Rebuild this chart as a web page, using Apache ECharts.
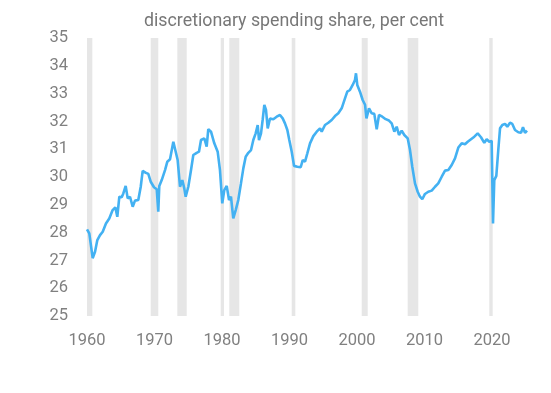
<!DOCTYPE html>
<html>
<head>
<meta charset="utf-8">
<script src="https://cdn.jsdelivr.net/npm/echarts@6/dist/echarts.min.js"></script>
<style>html,body{margin:0;padding:0;background:#fff}#c{width:551px;height:393px}</style>
</head>
<body>
<div id="c"></div>
<script>
var titleText = 'discretionary spending share, per cent';
var years = [1960.0,1960.34,1960.84,1961.19,1961.53,1961.93,1962.33,1962.81,1963.3,1963.8,1964.2,1964.49,1964.79,1965.14,1965.38,1965.73,1966.03,1966.37,1966.77,1967.11,1967.6,1967.96,1968.25,1968.74,1969.08,1969.44,1969.93,1970.33,1970.56,1970.71,1971.07,1971.56,1971.9,1972.3,1972.79,1973.04,1973.43,1973.78,1974.12,1974.41,1974.62,1975.01,1975.41,1975.75,1976.25,1976.59,1976.89,1977.38,1977.73,1977.97,1978.37,1978.86,1979.36,1979.7,1980.04,1980.34,1980.7,1981.04,1981.33,1981.67,1982.03,1982.41,1982.81,1983.16,1983.51,1983.9,1984.3,1984.64,1984.99,1985.29,1985.48,1985.78,1986.02,1986.27,1986.52,1986.77,1987.11,1987.6,1988.1,1988.59,1988.99,1989.33,1989.68,1989.97,1990.33,1990.67,1991.16,1991.66,1991.96,1992.3,1992.64,1993.04,1993.53,1994.03,1994.52,1994.77,1995.26,1995.75,1996.25,1996.74,1997.23,1997.73,1998.22,1998.56,1998.96,1999.36,1999.7,1999.85,2000.04,2000.44,2000.84,2001.19,2001.4,2001.78,2002.18,2002.56,2002.92,2003.26,2003.75,2004.25,2004.74,2005.14,2005.53,2005.88,2006.22,2006.62,2007.01,2007.51,2007.85,2008.19,2008.59,2008.99,2009.33,2009.67,2010.07,2010.56,2011.07,2011.56,2012.04,2012.55,2013.04,2013.53,2014.03,2014.52,2015.01,2015.51,2016.0,2016.4,2016.89,2017.38,2017.88,2018.37,2018.86,2019.21,2019.6,2019.95,2020.15,2020.34,2020.64,2020.93,2021.19,2021.53,2021.93,2022.27,2022.67,2023.01,2023.41,2023.9,2024.3,2024.59,2024.89,2025.19];
var share = [28.12,27.97,27.08,27.31,27.73,27.91,28.03,28.33,28.51,28.81,28.91,28.57,29.29,29.27,29.41,29.68,29.23,29.29,28.93,29.15,29.17,29.65,30.22,30.15,30.11,29.83,29.63,29.56,28.75,29.68,29.89,30.25,30.55,30.64,31.27,31.2,30.61,29.65,29.89,29.59,29.29,29.65,30.25,30.79,30.87,30.91,31.33,31.39,31.09,31.72,31.63,31.21,30.91,30.25,29.05,29.53,29.68,29.17,29.29,28.51,28.81,29.17,29.77,30.31,30.73,30.87,30.97,31.33,31.57,31.87,31.33,31.57,32.05,32.59,32.41,31.75,32.1,32.08,32.17,32.23,32.11,31.93,31.69,31.33,30.91,30.4,30.37,30.35,30.61,30.55,30.85,31.21,31.47,31.63,31.75,31.63,31.87,31.95,32.05,32.19,32.29,32.47,32.83,33.07,33.13,33.31,33.49,33.73,33.31,33.07,32.77,32.6,32.11,32.47,32.29,32.27,31.72,32.23,32.17,32.08,32.03,31.93,31.63,31.81,31.51,31.67,31.51,31.39,30.97,30.37,29.77,29.47,29.29,29.2,29.39,29.47,29.51,29.65,29.77,30.01,30.23,30.25,30.43,30.67,31.06,31.21,31.18,31.27,31.36,31.45,31.57,31.43,31.23,31.36,31.27,31.3,28.33,29.89,30.04,30.97,31.75,31.87,31.91,31.81,31.95,31.91,31.69,31.61,31.59,31.79,31.59,31.67];
var recessionStart = [1959.96,1969.44,1973.38,1979.81,1981.08,1990.33,2000.70,2007.51,2019.6];
var recessionEnd = [1960.79,1970.56,1974.77,1980.3,1982.56,1990.86,2001.59,2009.08,2020.1];
var xTicks = [1960,1970,1980,1990,2000,2010,2020];
var yTicks = [25,26,27,28,29,30,31,32,33,34,35];

var lineData = years.map(function (y, i) { return [y, share[i]]; });
var areas = recessionStart.map(function (s, i) { return [{ xAxis: s }, { xAxis: recessionEnd[i] }]; });

var chart = echarts.init(document.getElementById('c'));
chart.setOption({
  animation: false,
  backgroundColor: '#fff',
  title: {
    text: titleText,
    left: 139,
    top: 8,
    textStyle: { fontFamily: 'Roboto', fontSize: 17.8, fontWeight: 'normal', color: '#777777' }
  },
  grid: { left: 87, right: 18.5, top: 38, bottom: 77 },
  xAxis: {
    type: 'value',
    min: 1960, max: 2026, interval: 10,
    axisLine: { show: false },
    axisTick: { show: false },
    splitLine: { show: false },
    axisLabel: {
      margin: 16,
      fontFamily: 'Roboto', fontSize: 16.5, color: '#808080',
      formatter: function (v) { return xTicks.indexOf(v) >= 0 ? String(v) : ''; }
    }
  },
  yAxis: {
    type: 'value',
    min: yTicks[0], max: yTicks[yTicks.length - 1], interval: 1,
    axisLine: { show: false },
    axisTick: { show: false },
    splitLine: { show: false },
    axisLabel: { margin: 19, fontFamily: 'Roboto', fontSize: 16.5, color: '#808080' }
  },
  series: [{
    type: 'line',
    data: lineData,
    showSymbol: false,
    lineStyle: { color: '#43b1f2', width: 2.6 },
    markArea: {
      silent: true,
      itemStyle: { color: '#e6e6e6' },
      data: areas
    },
    z: 3
  }]
});
</script>
</body>
</html>
